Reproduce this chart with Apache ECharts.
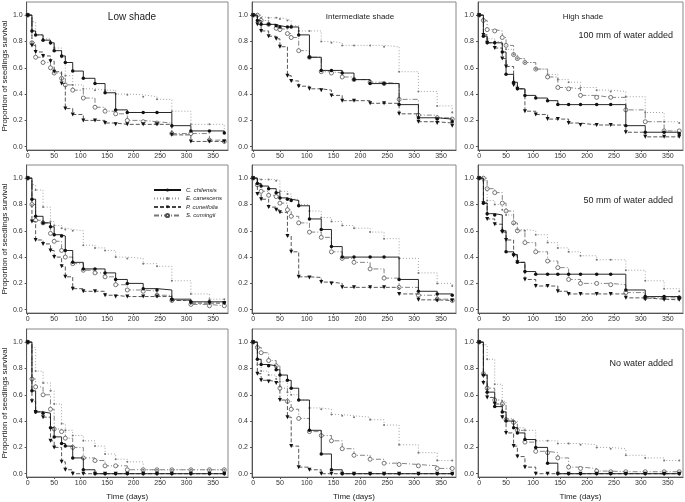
<!DOCTYPE html>
<html><head><meta charset="utf-8">
<script src="https://cdn.jsdelivr.net/npm/echarts@6/dist/echarts.min.js"></script>
<style>html,body{margin:0;padding:0;background:#fff}#c{width:685px;height:502px}</style>
</head><body><div id="c"></div>
<script>
// Observation times (days)
const times = [0, 8, 15, 29, 43, 50, 64, 71, 85, 105, 127, 146, 166, 188, 218, 244, 272, 308, 343, 371];
const xTicks = [0, 50, 100, 150, 200, 250, 300, 350];
const yTicks = [0, 0.2, 0.4, 0.6, 0.8, 1.0];
const species = ['C. chilensis', 'E. canescens', 'P. cuneifolia', 'S. cumingii'];
const shadeTitles = ['Low shade', 'Intermediate shade', 'High shade'];
const waterTitles = ['100 mm of water added', '50 mm of water added', 'No water added'];

// ---- 100 mm water ----
const low100_chil = [1, 0.88, 0.85, 0.81, 0.79, 0.73, 0.69, 0.64, 0.575, 0.52, 0.48, 0.41, 0.28, 0.26, 0.26, 0.26, 0.16, 0.12, 0.12, 0.105];
const low100_cane = [1, 0.95, 0.85, 0.82, 0.78, 0.75, 0.68, 0.54, 0.47, 0.44, 0.43, 0.43, 0.40, 0.395, 0.38, 0.36, 0.27, 0.17, 0.17, 0.11];
const low100_cune = [1, 0.77, 0.72, 0.69, 0.65, 0.57, 0.48, 0.29, 0.245, 0.20, 0.20, 0.18, 0.17, 0.17, 0.17, 0.17, 0.09, 0.04, 0.04, 0.04];
const low100_cumi = [1, 0.79, 0.68, 0.64, 0.60, 0.56, 0.52, 0.47, 0.43, 0.37, 0.30, 0.27, 0.25, 0.20, 0.19, 0.18, 0.10, 0.10, 0.05, 0.04];

const int100_chil = [1, 0.96, 0.93, 0.93, 0.92, 0.91, 0.91, 0.91, 0.85, 0.68, 0.58, 0.58, 0.56, 0.51, 0.48, 0.48, 0.32, 0.22, 0.21, 0.19];
const int100_cane = [1, 0.99, 0.98, 0.98, 0.98, 0.97, 0.96, 0.92, 0.88, 0.88, 0.80, 0.79, 0.77, 0.77, 0.77, 0.76, 0.57, 0.42, 0.31, 0.26];
const int100_cune = [1, 0.93, 0.88, 0.84, 0.82, 0.76, 0.54, 0.50, 0.46, 0.44, 0.43, 0.39, 0.35, 0.35, 0.33, 0.33, 0.25, 0.19, 0.18, 0.16];
const int100_cumi = [1, 1.0, 0.96, 0.93, 0.90, 0.89, 0.86, 0.83, 0.73, 0.68, 0.57, 0.56, 0.53, 0.51, 0.49, 0.48, 0.36, 0.24, 0.22, 0.21];

const high100_chil = [1, 0.84, 0.79, 0.79, 0.72, 0.55, 0.49, 0.44, 0.39, 0.37, 0.35, 0.32, 0.32, 0.32, 0.32, 0.32, 0.16, 0.11, 0.11, 0.10];
const high100_cane = [1, 0.85, 0.82, 0.80, 0.78, 0.74, 0.70, 0.67, 0.64, 0.59, 0.55, 0.51, 0.49, 0.45, 0.43, 0.42, 0.38, 0.26, 0.19, 0.18];
const high100_cune = [1, 0.85, 0.79, 0.75, 0.67, 0.61, 0.47, 0.44, 0.27, 0.245, 0.21, 0.21, 0.18, 0.165, 0.165, 0.165, 0.11, 0.075, 0.075, 0.075];
const high100_cumi = [1, 0.96, 0.89, 0.88, 0.83, 0.77, 0.70, 0.67, 0.64, 0.59, 0.53, 0.45, 0.44, 0.39, 0.375, 0.375, 0.28, 0.19, 0.12, 0.12];

// ---- 50 mm water ----
const low50_chil = [1, 0.84, 0.71, 0.66, 0.63, 0.57, 0.56, 0.45, 0.36, 0.31, 0.31, 0.28, 0.23, 0.20, 0.16, 0.15, 0.08, 0.06, 0.06, 0.055];
const low50_cane = [1, 0.95, 0.91, 0.78, 0.67, 0.64, 0.62, 0.61, 0.60, 0.49, 0.47, 0.45, 0.40, 0.39, 0.35, 0.33, 0.22, 0.12, 0.08, 0.08];
const low50_cune = [1, 0.67, 0.53, 0.50, 0.45, 0.40, 0.33, 0.25, 0.16, 0.14, 0.14, 0.11, 0.10, 0.10, 0.10, 0.10, 0.07, 0.05, 0.05, 0.05];
const low50_cumi = [1, 0.80, 0.68, 0.66, 0.58, 0.52, 0.45, 0.40, 0.35, 0.30, 0.28, 0.25, 0.19, 0.15, 0.14, 0.11, 0.07, 0.04, 0.03, 0.03];

const int50_chil = [1, 0.96, 0.94, 0.92, 0.89, 0.85, 0.84, 0.83, 0.79, 0.69, 0.61, 0.48, 0.40, 0.40, 0.40, 0.40, 0.23, 0.14, 0.12, 0.11];
const int50_cane = [1, 0.99, 0.99, 0.99, 0.98, 0.90, 0.88, 0.84, 0.80, 0.75, 0.70, 0.67, 0.64, 0.62, 0.59, 0.54, 0.39, 0.28, 0.20, 0.18];
const int50_cune = [1, 0.88, 0.84, 0.78, 0.76, 0.74, 0.56, 0.44, 0.25, 0.245, 0.21, 0.20, 0.17, 0.17, 0.17, 0.17, 0.12, 0.075, 0.07, 0.07];
const int50_cumi = [1, 0.95, 0.90, 0.87, 0.86, 0.81, 0.76, 0.71, 0.66, 0.59, 0.55, 0.44, 0.39, 0.36, 0.31, 0.24, 0.17, 0.11, 0.08, 0.07];

const high50_chil = [1, 0.81, 0.73, 0.72, 0.60, 0.44, 0.42, 0.36, 0.29, 0.27, 0.27, 0.27, 0.27, 0.27, 0.27, 0.27, 0.15, 0.10, 0.10, 0.095];
const high50_cane = [1, 0.98, 0.83, 0.80, 0.76, 0.72, 0.65, 0.61, 0.60, 0.57, 0.51, 0.47, 0.44, 0.41, 0.38, 0.38, 0.30, 0.22, 0.16, 0.14];
const high50_cune = [1, 0.81, 0.69, 0.65, 0.59, 0.53, 0.41, 0.36, 0.23, 0.18, 0.18, 0.14, 0.12, 0.12, 0.12, 0.12, 0.09, 0.08, 0.075, 0.075];
const high50_cumi = [1, 1.0, 0.92, 0.89, 0.81, 0.75, 0.66, 0.60, 0.51, 0.44, 0.37, 0.32, 0.23, 0.20, 0.20, 0.19, 0.13, 0.09, 0.09, 0.09];

// ---- No water ----
const low0_chil = [1, 0.63, 0.47, 0.46, 0.35, 0.28, 0.23, 0.21, 0.12, 0.03, 0, 0, 0, 0, 0, 0, 0, 0, 0, 0];
const low0_cane = [1, 0.96, 0.78, 0.69, 0.63, 0.53, 0.38, 0.33, 0.29, 0.25, 0.21, 0.15, 0.11, 0.09, 0.03, 0.03, 0.03, 0.03, 0.03, 0.03];
const low0_cune = [1, 0.55, 0.47, 0.43, 0.25, 0.20, 0.09, 0.03, 0, 0, 0, 0, 0, 0, 0, 0, 0, 0, 0, 0];
const low0_cumi = [1, 0.72, 0.66, 0.60, 0.49, 0.34, 0.32, 0.27, 0.20, 0.12, 0.10, 0.06, 0.06, 0.03, 0.03, 0.03, 0.03, 0.03, 0.03, 0.03];

const int0_chil = [1, 0.87, 0.83, 0.82, 0.79, 0.75, 0.71, 0.65, 0.56, 0.33, 0.15, 0.03, 0, 0, 0, 0, 0, 0, 0, 0];
const int0_cane = [1, 0.83, 0.78, 0.75, 0.72, 0.70, 0.62, 0.60, 0.56, 0.50, 0.49, 0.45, 0.44, 0.43, 0.41, 0.37, 0.22, 0.16, 0.10, 0.10];
const int0_cune = [1, 0.76, 0.71, 0.70, 0.69, 0.56, 0.43, 0.21, 0.05, 0.03, 0, 0, 0, 0, 0, 0, 0, 0, 0, 0];
const int0_cumi = [1, 0.96, 0.92, 0.86, 0.82, 0.65, 0.55, 0.49, 0.42, 0.32, 0.29, 0.25, 0.19, 0.14, 0.11, 0.08, 0.07, 0.06, 0.04, 0.04];

const high0_chil = [1, 0.75, 0.62, 0.51, 0.47, 0.40, 0.35, 0.31, 0.26, 0.20, 0.08, 0, 0, 0, 0, 0, 0, 0, 0, 0];
const high0_cane = [1, 0.98, 0.87, 0.68, 0.55, 0.42, 0.40, 0.35, 0.33, 0.25, 0.25, 0.23, 0.23, 0.22, 0.20, 0.19, 0.14, 0.12, 0.10, 0.10];
const high0_cune = [1, 0.69, 0.58, 0.53, 0.43, 0.31, 0.21, 0.13, 0.05, 0, 0, 0, 0, 0, 0, 0, 0, 0, 0, 0];
const high0_cumi = [1, 0.76, 0.65, 0.56, 0.53, 0.41, 0.39, 0.33, 0.24, 0.17, 0.16, 0.12, 0.05, 0.04, 0.02, 0.015, 0.015, 0.015, 0.015, 0.015];

const panels = [
  [low100_chil, low100_cane, low100_cune, low100_cumi],
  [int100_chil, int100_cane, int100_cune, int100_cumi],
  [high100_chil, high100_cane, high100_cune, high100_cumi],
  [low50_chil, low50_cane, low50_cune, low50_cumi],
  [int50_chil, int50_cane, int50_cune, int50_cumi],
  [high50_chil, high50_cane, high50_cune, high50_cumi],
  [low0_chil, low0_cane, low0_cune, low0_cumi],
  [int0_chil, int0_cane, int0_cune, int0_cumi],
  [high0_chil, high0_cane, high0_cune, high0_cumi]
];

const FONT = 'Liberation Sans, Arial, sans-serif';
const colLeft = [26, 252, 478];
const colWidth = [202, 204, 205];
const rowTop = [2, 165, 329];
const gridH = 148;

const styles = [
  {color: '#111', type: 'solid', symbol: 'circle', size: 3.5, fill: '#111', border: '#111'},
  {color: '#999', type: [1, 2], symbol: 'circle', size: 2, fill: '#777', border: '#777'},
  {color: '#444', type: [4, 2], symbol: 'triangle', size: 4, fill: '#111', border: '#111'},
  {color: '#777', type: [5, 2, 1, 2], symbol: 'circle', size: 4, fill: '#fff', border: '#555'}
];

const grids = [], xAxes = [], yAxes = [], series = [], titles = [];
panels.forEach((pd, i) => {
  const r = Math.floor(i / 3), c = i % 3;
  grids.push({left: colLeft[c], top: rowTop[r], width: colWidth[c], height: gridH,
    show: true, borderColor: '#888', borderWidth: 1, backgroundColor: 'transparent'});
  xAxes.push({type: 'value', gridIndex: i, min: -2, max: 378,
    axisLine: {show: true, onZero: false, lineStyle: {color: '#555'}},
    axisTick: {show: true, length: 2, customValues: xTicks, lineStyle: {color: '#555'}},
    axisLabel: {fontSize: 7, color: '#333', margin: 3, fontFamily: FONT, customValues: xTicks},
    splitLine: {show: false},
    name: r === 2 ? 'Time (days)' : '', nameLocation: 'middle', nameGap: 16,
    nameTextStyle: {fontSize: 8, color: '#222', fontFamily: FONT}});
  yAxes.push({type: 'value', gridIndex: i, min: -0.025, max: 1.1,
    axisLine: {show: true, onZero: false, lineStyle: {color: '#555'}},
    axisTick: {show: true, length: 2, customValues: yTicks, lineStyle: {color: '#555'}},
    axisLabel: {fontSize: 7, color: '#333', margin: 4, fontFamily: FONT, customValues: yTicks,
      formatter: v => v.toFixed(1)},
    splitLine: {show: false},
    name: c === 0 ? 'Proportion of seedlings survival' : '', nameLocation: 'middle', nameGap: 15,
    nameTextStyle: {fontSize: 8, color: '#222', fontFamily: FONT}});
  pd.forEach((vals, s) => {
    const st = styles[s];
    series.push({name: species[s], type: 'line', step: 'end', xAxisIndex: i, yAxisIndex: i,
      data: times.map((t, k) => [t, vals[k]]),
      symbol: st.symbol, symbolSize: st.size, symbolRotate: s === 2 ? 180 : 0,
      showAllSymbol: true, animation: false, z: 10 - s,
      lineStyle: {color: st.color, width: 0.9, type: st.type},
      itemStyle: {color: st.fill, borderColor: st.border, borderWidth: s === 3 ? 0.8 : 0},
      emphasis: {disabled: true}});
  });
});

// panel titles
titles.push({text: shadeTitles[0], left: 127, top: 7, textAlign: 'center',
  textStyle: {fontSize: 10, fontWeight: 'normal', color: '#222', fontFamily: FONT}});
titles.push({text: shadeTitles[1], left: 355, top: 8, textAlign: 'center',
  textStyle: {fontSize: 8, fontWeight: 'normal', color: '#222', fontFamily: FONT}});
titles.push({text: shadeTitles[2], left: 578, top: 8, textAlign: 'center',
  textStyle: {fontSize: 8, fontWeight: 'normal', color: '#222', fontFamily: FONT}});
titles.push({text: waterTitles[0], right: 7, top: 26,
  textStyle: {fontSize: 9, fontWeight: 'normal', color: '#222', fontFamily: FONT}});
titles.push({text: waterTitles[1], right: 7, top: 191,
  textStyle: {fontSize: 9, fontWeight: 'normal', color: '#222', fontFamily: FONT}});
titles.push({text: waterTitles[2], right: 7, top: 354,
  textStyle: {fontSize: 9, fontWeight: 'normal', color: '#222', fontFamily: FONT}});

const chart = echarts.init(document.getElementById('c'), null, {renderer: 'canvas'});
chart.setOption({
  animation: false,
  backgroundColor: '#fff',
  title: titles,
  legend: {data: species, orient: 'vertical', left: 153, top: 187, itemWidth: 27, itemHeight: 4,
    itemGap: 2.5, padding: 0, selectedMode: false,
    textStyle: {fontSize: 6, fontStyle: 'italic', color: '#222', fontFamily: FONT, padding: [0, 0, 0, 0]}},
  grid: grids, xAxis: xAxes, yAxis: yAxes, series: series
});
</script></body></html>
